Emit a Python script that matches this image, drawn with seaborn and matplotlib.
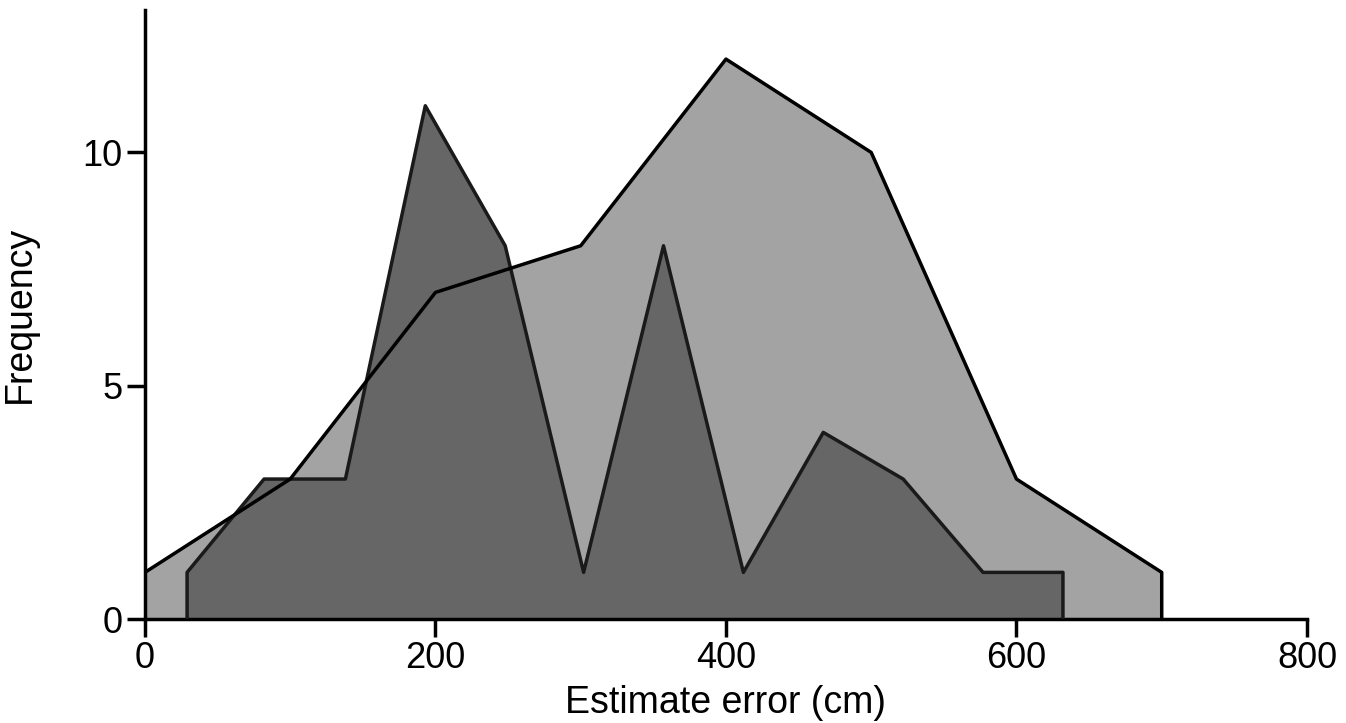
import numpy as np
import pandas as pd
import matplotlib
matplotlib.use('Agg')
import matplotlib.pyplot as plt
import seaborn as sns

# light polygon (wide distribution)
light_x = [0, 100, 200, 300, 400, 500, 600, 700]
light_y = [1, 3, 7, 8, 12, 10, 3, 1]

# dark polygon (narrower bins)
dark_x = [29, 82, 138, 193, 248, 302, 357, 412, 467, 522, 577, 632]
dark_y = [1, 3, 3, 11, 8, 1, 8, 1, 4, 3, 1, 1]

light_fill = '#a3a3a3'
dark_fill = '#666666'

sns.set_style('ticks')
plt.rcParams['font.family'] = ['Liberation Sans', 'DejaVu Sans']
plt.rcParams['text.color'] = 'black'
plt.rcParams['axes.labelcolor'] = 'black'
plt.rcParams['xtick.color'] = 'black'
plt.rcParams['ytick.color'] = 'black'
plt.rcParams['axes.edgecolor'] = 'black'

fig = plt.figure(figsize=(13.46, 7.23), dpi=100)
ax = fig.add_axes([0.1077, 0.1438, 0.8633, 0.8422])


def closed(xs, ys):
    # drop to zero at both ends so the outline closes on the axis
    return pd.DataFrame({'x': [xs[0]] + list(xs) + [xs[-1]],
                         'y': [0] + list(ys) + [0]})


light = closed(light_x, light_y)
dark = closed(dark_x, dark_y)

ax.fill_between(light['x'], light['y'], 0, color=light_fill, lw=0, zorder=1)
ax.fill_between(dark['x'], dark['y'], 0, color=dark_fill, lw=0, zorder=2)
sns.lineplot(data=dark, x='x', y='y', sort=False, estimator=None, color='#1a1a1a',
             lw=2.5, ax=ax, zorder=3)
sns.lineplot(data=light, x='x', y='y', sort=False, estimator=None, color='black',
             lw=2.5, ax=ax, zorder=4)

ax.set_xlim(0, 800)
ax.set_ylim(0, 13.05)
ax.set_xticks([0, 200, 400, 600, 800])
ax.set_yticks([0, 5, 10])
ax.set_xlabel('Estimate error (cm)', fontsize=27, labelpad=6)
ax.set_ylabel('Frequency', fontsize=27, labelpad=32)
ax.tick_params(labelsize=26, width=2.5, length=13, direction='out', pad=3)
for s in ['left', 'bottom']:
    ax.spines[s].set_linewidth(2.5)
sns.despine(ax=ax)
ax.margins(0)

fig.savefig('out.png', dpi=100)
